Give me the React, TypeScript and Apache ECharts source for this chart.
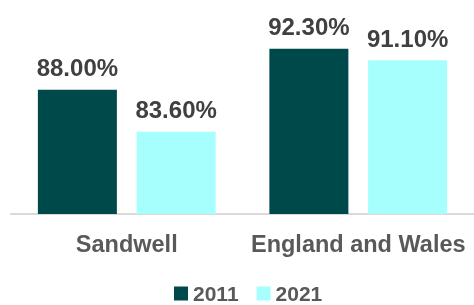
import React, { useEffect, useRef } from "react";
import * as echarts from "echarts";

const categories = ["Sandwell", "England and Wales"];
const series2011 = [88.0, 92.3];
const series2021 = [83.6, 91.1];
const seriesNames = ["2011", "2021"];

export default function App() {
  const ref = useRef<HTMLDivElement>(null);
  useEffect(() => {
    if (!ref.current) return;
    const chart = echarts.init(ref.current, null, { renderer: "svg" });
    const font = "'Liberation Sans', Arial, sans-serif";
    const label = {
      show: true,
      position: "top",
      distance: 10,
      formatter: (p: any) => p.value.toFixed(2) + "%",
      color: "#404040",
      fontWeight: "bold",
      fontSize: 24,
      fontFamily: font,
    };
    chart.setOption({
      animation: false,
      grid: { left: 11, right: 0, top: 23, bottom: 91 },
      legend: {
        data: seriesNames,
        left: 174,
        top: 283,
        padding: 0,
        itemWidth: 14,
        itemHeight: 14,
        itemGap: 18,
        icon: "rect",
        textStyle: { color: "#595959", fontSize: 21, fontWeight: "bold", fontFamily: font },
      },
      xAxis: {
        type: "category",
        data: categories,
        axisLine: { lineStyle: { color: "#d9d9d9", width: 2 } },
        axisTick: { show: false },
        axisLabel: { color: "#595959", fontSize: 23.5, fontWeight: "bold", fontFamily: font, margin: 18, interval: 0 },
      },
      yAxis: { type: "value", min: 75, max: 95, show: false, splitLine: { show: false } },
      series: [
        {
          name: seriesNames[0],
          type: "bar",
          data: series2011,
          barWidth: 79,
          barGap: "25%",
          itemStyle: { color: "#00494A" },
          label,
        },
        {
          name: seriesNames[1],
          type: "bar",
          data: series2021,
          barWidth: 79,
          itemStyle: { color: "#A6FFFD" },
          label,
        },
      ],
    });
    return () => chart.dispose();
  }, []);
  return (
    <div style={{ position: "fixed", left: 0, top: 0, width: 474, height: 305, overflow: "hidden" }}>
      <div ref={ref} style={{ width: 474, height: 305 }} />
    </div>
  );
}
